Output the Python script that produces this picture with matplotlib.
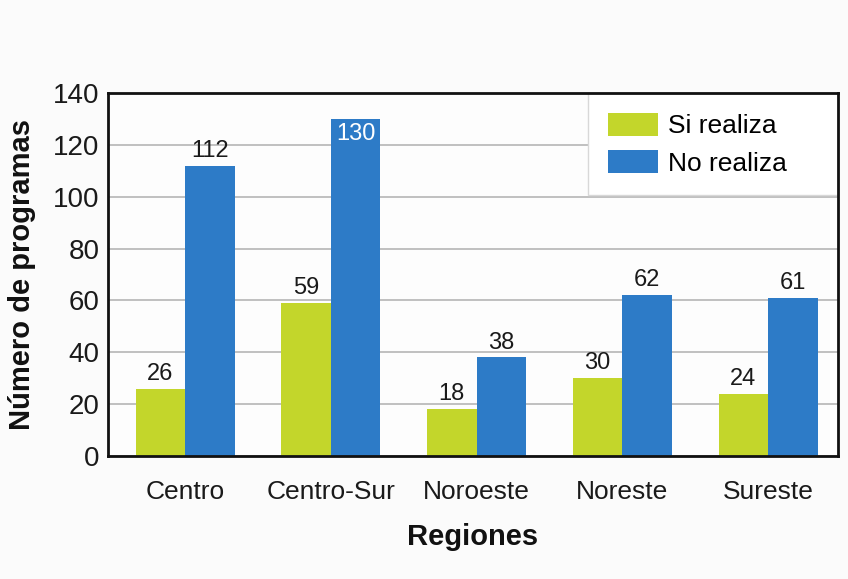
import matplotlib
matplotlib.use("Agg")
import matplotlib.pyplot as plt
import numpy as np

# Data
regions = ["Centro", "Centro-Sur", "Noroeste", "Noreste", "Sureste"]
si_realiza = [26, 59, 18, 30, 24]
no_realiza = [112, 130, 38, 62, 61]

plt.rcParams["font.family"] = ["Liberation Sans", "DejaVu Sans"]

GREEN = "#c3d62b"
BLUE = "#2d7bc7"

fig = plt.figure(figsize=(8.48, 5.79), dpi=100, facecolor="#fbfbfb")
ax = fig.add_axes([108 / 848, 1 - 456 / 579, (838 - 108) / 848, (456 - 93) / 579])
ax.set_facecolor("#fdfdfd")

x = np.arange(len(regions))
w = 0.34
b1 = ax.bar(x - w / 2, si_realiza, w, color=GREEN, label="Si realiza", zorder=2)
b2 = ax.bar(x + w / 2, no_realiza, w, color=BLUE, label="No realiza", zorder=2)

# value labels
for rect, v in zip(b1, si_realiza):
    ax.text(rect.get_x() + rect.get_width() / 2, v + 1.5, str(v),
            ha="center", va="bottom", fontsize=17, color="#1a1a1a", zorder=4)
for rect, v in zip(b2, no_realiza):
    if v == max(no_realiza):
        # tallest bar: label goes inside, in white
        ax.text(rect.get_x() + rect.get_width() / 2, v - 1.5, str(v),
                ha="center", va="top", fontsize=17, color="white", zorder=4)
    else:
        ax.text(rect.get_x() + rect.get_width() / 2, v + 1.5, str(v),
                ha="center", va="bottom", fontsize=17, color="#1a1a1a", zorder=4)

ax.set_xlim(-0.53, 4.48)
ax.set_ylim(0, 140)
ax.set_yticks(range(0, 141, 20))
ax.set_xticks(x)
ax.set_xticklabels(regions)
ax.tick_params(axis="y", labelsize=20, length=0, pad=6, colors="#1a1a1a")
ax.tick_params(axis="x", labelsize=19, length=0, pad=17, colors="#1a1a1a")
ax.grid(axis="y", color="#b5b5b5", linewidth=1.2, zorder=0)

for s in ax.spines.values():
    s.set_linewidth(2)
    s.set_color("#111111")
    s.set_zorder(3)

ax.set_ylabel("Número de programas", fontsize=21, fontweight="bold", labelpad=12, color="#111111")
ax.set_xlabel("Regiones", fontsize=21, fontweight="bold", labelpad=14, color="#111111")

# legend box sits in the top right corner, under the frame
leg = ax.legend(loc="upper left", mode="expand", fontsize=19, frameon=True, fancybox=False,
                handlelength=1.9, handleheight=0.95, borderpad=0.75,
                labelspacing=0.45, handletextpad=0.35, borderaxespad=0,
                bbox_to_anchor=(0.658, 0.0, 0.342, 1.0))
leg.get_frame().set_facecolor("white")
leg.get_frame().set_edgecolor("#d8d8d8")
leg.get_frame().set_alpha(1)
leg.set_zorder(2.5)

fig.savefig("out.png", dpi=100, facecolor=fig.get_facecolor())
